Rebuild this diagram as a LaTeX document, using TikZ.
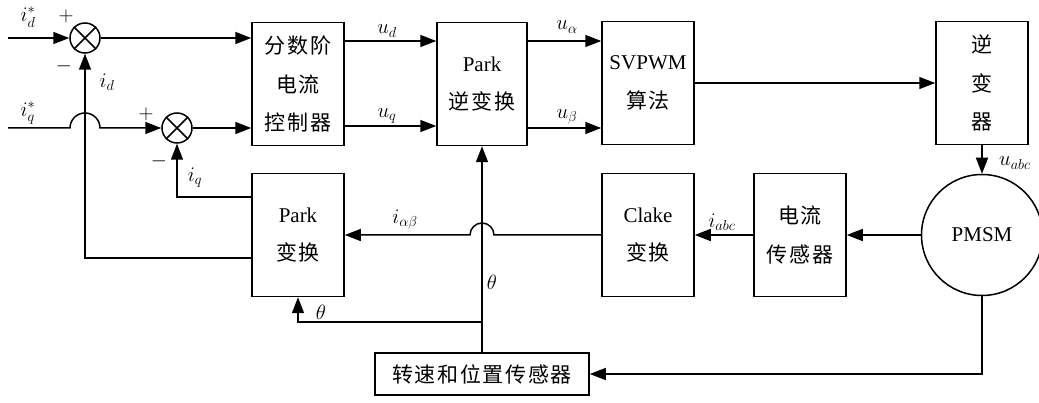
\documentclass[tikz,border=0pt]{standalone}
\usepackage{amsmath}
\usepackage{fontspec}
\setmainfont{Liberation Serif}
\newfontfamily\cjk[LetterSpace=8]{Noto Sans CJK SC}
\usetikzlibrary{
  arrows.meta,
  calc
}

\begin{document}
\begin{tikzpicture}[x=1pt, y=-1pt,
    line width=1.5pt,
  blk/.style = {draw, minimum width=92pt, minimum height=123pt,
    align=center, inner sep=0pt, font=\fontsize{21}{38.5}\selectfont},
  sumj/.style = {draw, circle, minimum size=30pt, inner sep=0pt},
  lbl/.style = {inner sep=0pt, font=\fontsize{22}{24}\selectfont},
  arr/.style = {-{Triangle[length=16pt,width=12pt]}}]
  \useasboundingbox (0,0) rectangle (1039,403);

  \node[blk] (fc) at (298,84) {\cjk 分数阶\\\cjk 电流\\\cjk 控制器};
  \node[blk, minimum width=90pt] (pinv) at (482,84) {Park\\\cjk 逆变换};
  \node[blk] (svp) at (648,83) {SVPWM\\\cjk 算法};
  \node[blk] (inv) at (982,83) {\cjk 逆\\\cjk 变\\\cjk 器};
  \node[blk] (pk) at (298,235) {Park\\\cjk 变换};
  \node[blk] (ck) at (648,235) {Clake\\\cjk 变换};
  \node[blk] (cs) at (800,235) {\cjk 电流\\\cjk 传感器};
  \node[draw, circle, minimum size=121pt, inner sep=0pt,
    font=\fontsize{21}{24}\selectfont] (pm) at (982,235) {PMSM};
  \node[draw, minimum width=214pt, minimum height=42pt, inner sep=0pt,
    font=\fontsize{21}{24}\selectfont] (spd) at (482,374) {\cjk 转速和位置传感器};

  \node[sumj] (s1) at (85,38) {};
  \node[sumj] (s2) at (177,128) {};
  \draw (s1.45) -- (s1.225) (s1.135) -- (s1.315);
  \draw (s2.45) -- (s2.225) (s2.135) -- (s2.315);

  \coordinate (idin) at (8,38);
  \coordinate (iqin) at (8,128);
  \coordinate (br) at ($(spd.north)+(0,30pt)$);

  \draw[arr] (idin) -- (s1.west);
  \draw[arr] (iqin) -- ($(iqin -| s1)+(-15pt,0)$)
    arc[start angle=180, end angle=0, radius=15pt] -- (s2.west);
  \draw[arr] (s1.east) -- (s1.east -| fc.west);
  \draw[arr] (s2.east) -- (s2.east -| fc.west);
  \draw[arr] ([yshift=43pt]fc.east) -- ([yshift=43pt]fc.east -| pinv.west);
  \draw[arr] ([yshift=-42pt]fc.east) -- ([yshift=-42pt]fc.east -| pinv.west);
  \draw[arr] ([yshift=43pt]pinv.east) -- ([yshift=43pt]pinv.east -| svp.west);
  \draw[arr] ([yshift=-44pt]pinv.east) -- ([yshift=-44pt]pinv.east -| svp.west);
  \draw[arr] (svp.east) -- (svp.east -| inv.west);
  \draw[arr] (inv.south) -- (pm.north);
  \draw[arr] (pm.west) -- (cs.east);
  \draw[arr] (cs.west) -- (ck.east);
  \draw[arr] (ck.west) -- ($(ck.west -| pinv.south)+(12pt,0)$)
    arc[start angle=0, end angle=180, radius=12pt] -- (pk.east);
  \draw[arr] (spd.north) -- (pinv.south);
  \draw[arr] (br) -| (pk.south);
  \draw[arr] (pm.south) |- (spd.east);
  \draw[arr] ([yshift=38pt]pk.west) -| (s2.south);
  \draw[arr] ([yshift=-23pt]pk.west) -| (s1.south);

  \node[lbl] (lid0) at (28,17) {$i^{*}_{d}$};
  \node[lbl] (liq0) at (28,113) {$i^{*}_{q}$};
  \node[lbl] (p1) at (66,16) {$+$};
  \node[lbl] (m1) at (64,66) {$-$};
  \node[lbl] (p2) at (146,114) {$+$};
  \node[lbl] (m2) at (159,161) {$-$};
  \node[lbl] (lid) at (107,82) {$i_{d}$};
  \node[lbl] (liq) at (195,178) {$i_{q}$};
  \node[lbl] (lud) at (387,31) {$u_{d}$};
  \node[lbl] (luq) at (387,116) {$u_{q}$};
  \node[lbl] (lua) at (567,27) {$u_{\alpha}$};
  \node[lbl] (lub) at (567,117) {$u_{\beta}$};
  \node[lbl] (luabc) at (1015,163) {$u_{abc}$};
  \node[lbl] (liabc) at (722,222) {$i_{abc}$};
  \node[lbl] (liab) at (405,220) {$i_{\alpha\beta}$};
  \node[lbl] (lth1) at (492,282) {$\theta$};
  \node[lbl] (lth2) at (321,312) {$\theta$};
\end{tikzpicture}
\end{document}
